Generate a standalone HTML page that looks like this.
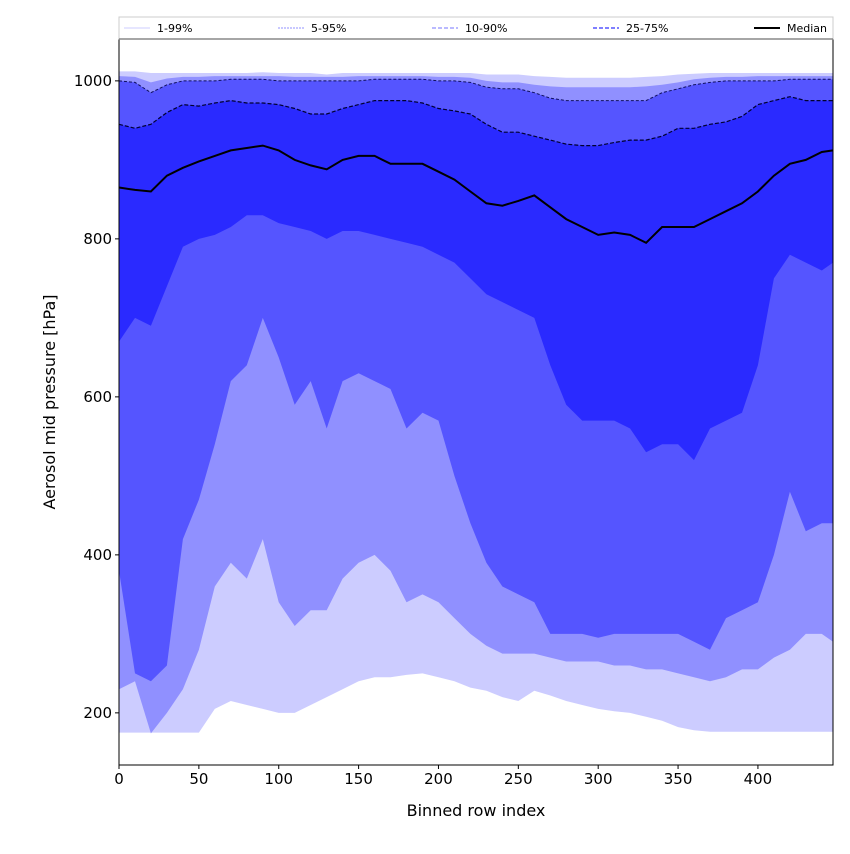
<!DOCTYPE html>
<html><head><meta charset="utf-8"><style>
body{margin:0;background:#fff;font-family:"DejaVu Sans","Liberation Sans",sans-serif}
svg text{font-family:"DejaVu Sans","Liberation Sans",sans-serif}
</style></head><body>
<svg id="chart" width="850" height="850" viewBox="0 0 850 850" xmlns="http://www.w3.org/2000/svg"></svg>
<script>
const xIdx=[0,10,20,30,40,50,60,70,80,90,100,110,120,130,140,150,160,170,180,190,200,210,220,230,240,250,260,270,280,290,300,310,320,330,340,350,360,370,380,390,400,410,420,430,440,447];
const p1=[175,175,175,175,175,175,205,215,210,205,200,200,210,220,230,240,245,245,248,250,245,240,232,228,220,215,228,222,215,210,205,202,200,195,190,182,178,176,176,176,176,176,176,176,176,176];
const p5=[230,240,174,200,230,280,360,390,370,420,340,310,330,330,370,390,400,380,340,350,340,320,300,285,275,275,275,270,265,265,265,260,260,255,255,250,245,240,245,255,255,270,280,300,300,290];
const p10=[380,250,240,260,420,470,540,620,640,700,650,590,620,560,620,630,620,610,560,580,570,500,440,390,360,350,340,300,300,300,295,300,300,300,300,300,290,280,320,330,340,400,480,430,440,440];
const p25=[670,700,690,740,790,800,805,815,830,830,820,815,810,800,810,810,805,800,795,790,780,770,750,730,720,710,700,640,590,570,570,570,560,530,540,540,520,560,570,580,640,750,780,770,760,770];
const p75=[945,940,945,960,970,968,972,975,972,972,970,965,958,958,965,970,975,975,975,972,965,962,958,945,935,935,930,925,920,918,918,922,925,925,930,940,940,945,948,955,970,975,980,975,975,975];
const p90=[1000,998,985,995,1000,1000,1000,1002,1002,1002,1000,1000,1000,1000,1000,1000,1002,1002,1002,1002,1000,1000,998,992,990,990,985,978,975,975,975,975,975,975,985,990,995,998,1000,1000,1000,1000,1002,1002,1002,1002];
const p95=[1006,1005,998,1003,1005,1005,1006,1006,1006,1006,1006,1005,1005,1005,1005,1006,1006,1006,1006,1006,1005,1005,1004,1000,998,998,995,993,992,992,992,992,992,993,995,998,1002,1004,1005,1005,1006,1006,1006,1006,1006,1006];
const p99=[1012,1012,1010,1010,1010,1010,1010,1010,1010,1011,1010,1010,1010,1008,1010,1010,1010,1010,1010,1010,1010,1010,1010,1008,1008,1008,1006,1005,1004,1004,1004,1004,1004,1005,1006,1008,1009,1010,1010,1010,1010,1010,1010,1010,1010,1010];
const median=[865,862,860,880,890,898,905,912,915,918,912,900,893,888,900,905,905,895,895,895,885,875,860,845,842,848,855,840,825,815,805,808,805,795,815,815,815,825,835,845,860,880,895,900,910,912];
const xTicks=[0,50,100,150,200,250,300,350,400];
const yTicks=[200,400,600,800,1000];

const svg=document.getElementById('chart');
const NS='http://www.w3.org/2000/svg';
const L=119,R=833,T=39,B=765;
const xMin=0,xMax=447,yMin=134,yMax=1053;
const sx=v=>L+(v-xMin)/(xMax-xMin)*(R-L);
const sy=v=>B-(v-yMin)/(yMax-yMin)*(B-T);
function mk(tag,attrs){const e=document.createElementNS(NS,tag);for(const k in attrs)e.setAttribute(k,attrs[k]);svg.appendChild(e);return e;}
function band(lo,hi,color,name){
  let d='';xIdx.forEach((x,i)=>{d+=(i?'L':'M')+sx(x).toFixed(1)+','+sy(hi[i]).toFixed(1);});
  for(let i=xIdx.length-1;i>=0;i--)d+='L'+sx(xIdx[i]).toFixed(1)+','+sy(lo[i]).toFixed(1);
  const p=mk('path',{d:d+'Z',fill:color,stroke:'none'});
  
  
}
function line(arr,color,w,dash,name){
  let d='';xIdx.forEach((x,i)=>{d+=(i?'L':'M')+sx(x).toFixed(1)+','+sy(arr[i]).toFixed(1);});
  const p=mk('path',{d:d,fill:'none',stroke:color,'stroke-width':w,'stroke-dasharray':dash});
  
  
}
band(p1,p99,'#ccccff','band-1-99');
band(p5,p95,'#9090ff','band-5-95');
band(p10,p90,'#5555ff','band-10-90');
band(p25,p75,'#2a2aff','band-25-75');
line(p90,'#101060',1,'3,2','line-p90');
line(p75,'#000030',1.2,'4,2','line-p75');
line(median,'#000',2,'none','median-line');
const fr=mk('rect',{x:L,y:T,width:R-L,height:B-T,fill:'none',stroke:'#000','stroke-width':1});


xTicks.forEach(t=>{
  const x=sx(t);
  mk('line',{x1:x,x2:x,y1:B,y2:B+4,stroke:'#000'});
  const tx=mk('text',{x:x,y:B+19,'text-anchor':'middle','font-size':15});tx.textContent=t;
  
  
});
yTicks.forEach(t=>{
  const y=sy(t);
  mk('line',{x1:L-4,x2:L,y1:y,y2:y,stroke:'#000'});
  const tx=mk('text',{x:L-7,y:y+5,'text-anchor':'end','font-size':15});tx.textContent=t;
  
  
});
const xt=mk('text',{x:(L+R)/2,y:816,'text-anchor':'middle','font-size':16});xt.textContent='Binned row index';


const yt=mk('text',{x:55,y:(T+B)/2,'text-anchor':'middle','font-size':16,transform:'rotate(-90 55 '+((T+B)/2)+')'});yt.textContent='Aerosol mid pressure [hPa]';


const lg=mk('rect',{x:119,y:17,width:714,height:22,fill:'#fff',stroke:'#ccc'});


mk('line',{x1:119,x2:833,y1:39,y2:39,stroke:'#888','stroke-width':1.5});
const legItems=[['1-99%',124,'#ccccff','none',1],['5-95%',278,'#9090ff','2,1',1],['10-90%',432,'#9090ff','4,2',1.2],['25-75%',593,'#5555ff','4,2',1.5],['Median',754,'#000','none',2]];
legItems.forEach(li=>{
  mk('line',{x1:li[1],x2:li[1]+26,y1:28,y2:28,stroke:li[2],'stroke-dasharray':li[3],'stroke-width':li[4]});
  const tx=mk('text',{x:li[1]+33,y:32,'font-size':11});tx.textContent=li[0];
  
  
});
</script>
</body></html>
